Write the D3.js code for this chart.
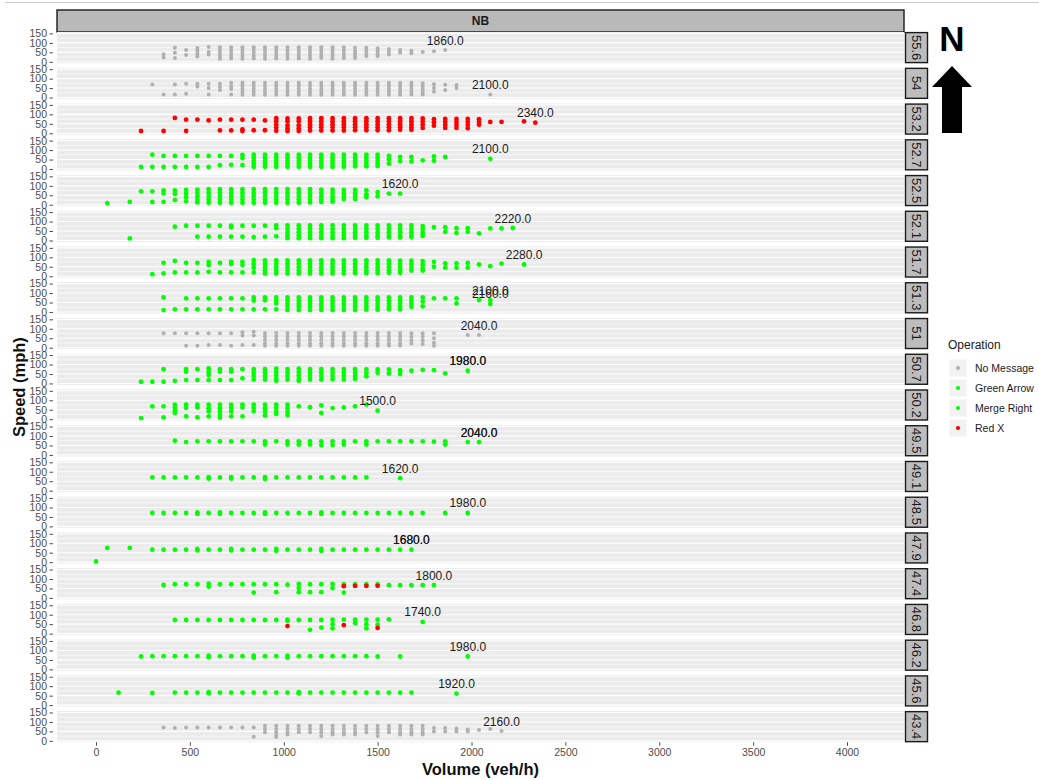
<!DOCTYPE html>
<html><head><meta charset="utf-8">
<script src="https://cdn.jsdelivr.net/npm/d3@7"></script>
<style>body{margin:0;background:#fff;} svg{display:block;font-family:"Liberation Sans",Arial,sans-serif;}</style>
</head><body><svg id="c" width="1039" height="780"></svg>
<script>
// ---------- DATA ----------
const facetLabels = ["55.6","54","53.2","52.7","52.5","52.1","51.7","51.3","51","50.7","50.2","49.5","49.1","48.5","47.9","47.4","46.8","46.2","45.6","43.4"];
const facetOps = ["No Message","No Message","Red X","Green Arrow","Green Arrow","Green Arrow","Green Arrow","Green Arrow","No Message","Green Arrow","Green Arrow","Green Arrow","Green Arrow","Green Arrow","Merge Right","Merge Right","Merge Right","Green Arrow","Green Arrow","No Message"];
const legendOps = ["No Message","Green Arrow","Merge Right","Red X"];
const opColors = ["#b0b0b0","#00ff00","#00ff00","#ff0000"];
const xTicks = [0,500,1000,1500,2000,2500,3000,3500,4000];
const yTicks = [0,50,100,150];
const yMinor = [25,75,125];

// [volume, [speeds], optional operation]
const p556 = [[360,[40,22]],[420,[74,48,20]],[480,[62,36]],[540,[73,58,43,28]],[600,[78,52,38]],[660,[77,62,46,30,16]],[720,[77,62,46,30,18]],[780,[77,62,46,30,16]],[840,[77,62,46,30,18]],[900,[77,62,46,30,16]],[960,[77,62,46,30,18]],[1020,[77,62,46,30,16]],[1080,[77,62,46,30,18]],[1140,[77,62,46,30,16]],[1200,[77,62,46,30,20]],[1260,[77,62,46,30,16]],[1320,[77,62,46,30,20]],[1380,[74,58,44,30,20]],[1440,[74,58,44,30]],[1500,[70,55,40,30]],[1560,[68,52,38]],[1620,[62,48]],[1680,[58,45]],[1740,[52]],[1800,[56]],[1860,[62]]];
const p54 = [[300,[69]],[360,[16]],[420,[69,16]],[480,[73,20]],[540,[73,58]],[600,[73,50,16]],[660,[73,55,40]],[720,[78,60,45,16]],[780,[78,62,46,30,14]],[840,[78,62,46,30,14]],[900,[78,62,46,30,14]],[960,[78,62,46,30,14]],[1020,[78,62,46,30,14]],[1080,[78,62,46,30,14]],[1140,[78,62,46,30,14]],[1200,[78,62,46,30,14]],[1260,[78,62,46,30,14]],[1320,[78,62,46,30,14]],[1380,[78,62,46,30,14]],[1440,[78,62,46,30,14]],[1500,[78,62,46,30,14]],[1560,[78,62,46,30,14]],[1620,[78,62,46,30,14]],[1680,[78,62,46,30,16]],[1740,[76,60,44,28,16]],[1800,[70,50,30]],[1860,[68,40]],[1920,[66,50]],[2100,[16]]];
const p532 = [[240,[12]],[360,[12]],[420,[81]],[480,[72,12]],[540,[72]],[600,[68]],[660,[72,15]],[720,[72,15]],[780,[72,20,12]],[840,[72,16]],[900,[68,16]],[960,[80,64,46,30,13]],[1020,[78,64,42,26,12]],[1080,[78,64,42,26,12]],[1140,[80,64,48,32,14]],[1200,[80,64,48,32,14]],[1260,[80,64,48,32,14]],[1320,[80,64,48,32,14]],[1380,[80,64,48,32,16]],[1440,[80,64,48,32,16]],[1500,[80,64,48,32,16]],[1560,[80,64,48,32,16]],[1620,[80,64,48,32,18]],[1680,[80,64,48,32,18]],[1740,[78,62,46,28]],[1800,[74,58,40]],[1860,[76,60,44,28]],[1920,[76,60,44,28]],[1980,[76,60,44,26]],[2040,[74,60,45]],[2100,[60]],[2160,[60]],[2280,[63]],[2340,[56]]];
const p527 = [[240,[11]],[300,[76,11]],[360,[69,11]],[420,[69,11]],[480,[69,11]],[540,[69,11]],[600,[69,11]],[660,[69,20]],[720,[69,22]],[780,[74,58,20]],[840,[76,60,44,28,12]],[900,[76,60,44,28,12]],[960,[76,60,44,28,12]],[1020,[76,60,44,28,12]],[1080,[76,60,44,28,12]],[1140,[76,60,44,28,12]],[1200,[76,60,44,28,12]],[1260,[76,60,44,28,12]],[1320,[76,60,44,28,12]],[1380,[76,60,44,28,14]],[1440,[76,60,44,28,14]],[1500,[76,60,44,28,16]],[1560,[69,50,28]],[1620,[64,42]],[1680,[64,40]],[1740,[46]],[1800,[66,44]],[1860,[64]],[2100,[54]]];
const p525 = [[60,[9]],[180,[15]],[240,[71]],[300,[71,15]],[360,[76,60,15]],[420,[76,58,25]],[480,[78,60,40,18]],[540,[80,62,44,26,12]],[600,[82,64,46,28,10]],[660,[82,64,46,28,10]],[720,[82,64,46,28,10]],[780,[82,64,46,28,10]],[840,[82,64,46,28,10]],[900,[82,64,46,28,10]],[960,[82,64,46,28,10]],[1020,[82,64,46,28,10]],[1080,[82,64,46,28,10]],[1140,[82,64,46,28,12]],[1200,[80,62,44,28,14]],[1260,[80,62,44,28,16]],[1320,[78,60,44,30]],[1380,[78,60,44,30]],[1440,[76,55,40]],[1500,[67,45]],[1560,[59]],[1620,[59]]];
const p521 = [[180,[11]],[420,[73]],[480,[78]],[540,[78,20]],[600,[78,20]],[660,[78,20]],[720,[78,70,20]],[780,[78,20]],[840,[78,18]],[900,[78,20]],[960,[80,65,22]],[1020,[80,62,44,26,12]],[1080,[80,62,44,26,12]],[1140,[80,62,44,26,12]],[1200,[80,62,44,26,12]],[1260,[80,62,44,26,12]],[1320,[80,62,44,26,12]],[1380,[80,62,44,26,14]],[1440,[80,62,44,26,14]],[1500,[80,62,44,26,14]],[1560,[80,62,44,26,16]],[1620,[80,62,44,26,16]],[1680,[80,62,44,26,18]],[1740,[76,58,40,24]],[1800,[70]],[1860,[70,45]],[1920,[65,40]],[1980,[65,45]],[2040,[38]],[2100,[64]],[2160,[64]],[2220,[66]]];
const p517 = [[300,[11]],[360,[71,15]],[420,[81,20]],[480,[71,20]],[540,[71,20]],[600,[76,60,23]],[660,[71,20]],[720,[76,64,20]],[780,[76,60,20]],[840,[85,65,45,20]],[900,[84,66,48,30,14]],[960,[84,66,48,30,14]],[1020,[84,66,48,30,14]],[1080,[84,66,48,30,14]],[1140,[84,66,48,30,14]],[1200,[84,66,48,30,14]],[1260,[84,66,48,30,14]],[1320,[84,66,48,30,14]],[1380,[84,66,48,30,16]],[1440,[84,66,48,30,16]],[1500,[84,66,48,30,16]],[1560,[84,66,48,30,18]],[1620,[82,64,46,30,18]],[1680,[82,64,46,30]],[1740,[80,62,44,30]],[1800,[76,50]],[1860,[68,45]],[1920,[68,45]],[1980,[70,45]],[2040,[62]],[2100,[53]],[2160,[67]],[2280,[62]]];
const p513 = [[360,[77,10]],[420,[14]],[480,[72,14]],[540,[72,14]],[600,[72,14]],[660,[72,14]],[720,[72,14]],[780,[72,14]],[840,[77,60,14]],[900,[77,62,14]],[960,[77,60,45,14]],[1020,[77,60,43,27,10]],[1080,[77,60,43,27,10]],[1140,[77,60,43,27,10]],[1200,[77,60,43,27,10]],[1260,[77,60,43,27,10]],[1320,[77,60,43,27,10]],[1380,[77,60,43,27,10]],[1440,[77,60,43,27,12]],[1500,[77,60,43,27,12]],[1560,[77,60,43,27,14]],[1620,[77,60,43,27,14]],[1680,[77,60,43,27]],[1740,[77,55,30]],[1800,[72]],[1860,[72]],[1920,[72,45]],[2040,[63]],[2100,[63,42]]];
const p51 = [[360,[76]],[420,[76]],[480,[76,10]],[540,[76,10]],[600,[76,14]],[660,[76,14]],[720,[76,10]],[780,[82,65,14]],[840,[85,65,14]],[900,[78,60,42,24,10]],[960,[78,60,42,24,10]],[1020,[78,60,42,24,10]],[1080,[78,60,42,24,10]],[1140,[78,60,42,24,10]],[1200,[78,60,42,24,10]],[1260,[78,60,42,24,10]],[1320,[78,60,42,24,10]],[1380,[78,60,42,24,10]],[1440,[78,60,42,24,10]],[1500,[78,60,42,24,10]],[1560,[78,60,42,24,12]],[1620,[78,60,42,24,12]],[1680,[76,58,40,22]],[1740,[76,58,40,20]],[1800,[76,50,26,10]],[1980,[67]],[2040,[67]]];
const p507 = [[240,[9]],[300,[9]],[360,[75,9]],[420,[14]],[480,[75,62,18]],[540,[75,18]],[600,[80,62,45,18]],[660,[75,62,18]],[720,[75,62,18]],[780,[75,27]],[840,[75,57,39,20]],[900,[75,57,39,20]],[960,[78,60,42,24,14]],[1020,[75,57,39,20]],[1080,[78,60,42,24,14]],[1140,[75,57,39,20]],[1200,[75,57,39,20]],[1260,[75,57,39,22]],[1320,[75,57,39,20]],[1380,[75,57,39,24]],[1440,[74,55,38]],[1500,[74,56]],[1560,[74,52]],[1620,[70,50]],[1680,[67]],[1740,[72]],[1800,[70]],[1860,[53]],[1980,[67]]];
const p502 = [[240,[6]],[300,[68]],[360,[68,10]],[420,[77,60,45,33]],[480,[77,60,15]],[540,[77,62,10]],[600,[77,58,42,15]],[660,[77,58,40,22,8]],[720,[77,60,42,15]],[780,[77,62,15]],[840,[77,60,43]],[900,[77,58,40,20]],[960,[77,60,40,28]],[1020,[77,58,40,22]],[1080,[68]],[1140,[63]],[1200,[73,33]],[1260,[59]],[1320,[62]],[1380,[68]],[1440,[77]],[1500,[45]]];
const p495 = [[420,[75]],[480,[68]],[540,[72]],[600,[72]],[660,[72]],[720,[72]],[780,[72]],[840,[72]],[900,[72,55]],[960,[72]],[1020,[72,55]],[1080,[72,55]],[1140,[72,55]],[1200,[72,52]],[1260,[72,52]],[1320,[72,55]],[1380,[72]],[1440,[72,55]],[1500,[72]],[1560,[72]],[1620,[72]],[1680,[72]],[1740,[72]],[1800,[70]],[1860,[72,55]],[1980,[68]],[2040,[68]]];
const p491 = [[300,[70]],[360,[70]],[420,[70]],[480,[70]],[540,[70]],[600,[72,64]],[660,[70]],[720,[72,64]],[780,[70]],[840,[70]],[900,[72,62]],[960,[70]],[1020,[70]],[1080,[70]],[1140,[70]],[1200,[70]],[1260,[70]],[1320,[70]],[1380,[70]],[1440,[70]],[1620,[66]]];
const p485 = [[300,[71]],[360,[71]],[420,[71]],[480,[71]],[540,[74,66]],[600,[71]],[660,[74,66]],[720,[71]],[780,[71]],[840,[71]],[900,[74,66]],[960,[71]],[1020,[71]],[1080,[71]],[1140,[71]],[1200,[74,66]],[1260,[71]],[1320,[71]],[1380,[71]],[1440,[71]],[1500,[71]],[1560,[71]],[1620,[71]],[1680,[71]],[1740,[71]],[1860,[71]],[1980,[71]]];
const p479 = [[0,[4]],[60,[75]],[180,[75]],[300,[66]],[360,[66]],[420,[66]],[480,[66]],[540,[70,62]],[600,[66]],[660,[66]],[720,[70,62]],[780,[66]],[840,[66]],[900,[66]],[960,[70,60]],[1020,[66]],[1080,[66]],[1140,[66]],[1200,[70,60]],[1260,[66]],[1320,[66]],[1380,[66]],[1440,[66]],[1500,[66]],[1560,[66]],[1620,[66]],[1680,[66]]];
const p474 = [[360,[68]],[420,[72]],[480,[72]],[540,[72]],[600,[75,60]],[660,[72]],[720,[72]],[780,[72]],[840,[72,28]],[900,[72]],[960,[72,30]],[1020,[70]],[1080,[74,52,30]],[1140,[72,30]],[1200,[72,30]],[1260,[74,52]],[1320,[72,28]],[1320,[62],"Red X"],[1380,[72]],[1380,[63],"Red X"],[1440,[72]],[1440,[63],"Red X"],[1500,[72]],[1500,[64],"Red X"],[1560,[67]],[1620,[67]],[1680,[67]],[1740,[67]],[1800,[67]]];
const p468 = [[420,[72]],[480,[72]],[540,[72]],[600,[72]],[660,[72]],[720,[72]],[780,[72]],[840,[72]],[900,[72]],[960,[72]],[1020,[74,68]],[1020,[40],"Red X"],[1080,[72]],[1140,[72,20]],[1200,[72,32]],[1260,[74,50,28]],[1320,[74]],[1320,[45],"Red X"],[1380,[74,55]],[1440,[74,50,28]],[1500,[74,48]],[1500,[30],"Red X"],[1560,[75]],[1740,[62]]];
const p462 = [[240,[68]],[300,[70]],[360,[70]],[420,[70]],[480,[70]],[540,[70]],[600,[72,64]],[660,[70]],[720,[70]],[780,[70]],[840,[72,62]],[900,[70]],[960,[70]],[1020,[72,62]],[1080,[70]],[1140,[70]],[1200,[70]],[1260,[70]],[1320,[70]],[1380,[70]],[1440,[70]],[1500,[68]],[1620,[68]],[1980,[68]]];
const p456 = [[120,[66]],[300,[64]],[420,[66]],[480,[66]],[540,[66]],[600,[68,62]],[660,[66]],[720,[66]],[780,[66]],[840,[66]],[900,[66]],[960,[66]],[1020,[66]],[1080,[68,62]],[1140,[66]],[1200,[66]],[1260,[66]],[1320,[66]],[1380,[66]],[1440,[66]],[1500,[66]],[1560,[66]],[1620,[66]],[1680,[66]],[1920,[61]]];
const p434 = [[360,[70]],[420,[68]],[480,[70]],[540,[70]],[600,[70]],[660,[70]],[720,[70]],[780,[70]],[840,[70,22]],[900,[80,62,45]],[960,[80,62,45,28,20]],[1020,[80,62,45,34]],[1080,[80,62,45]],[1140,[80,62,45]],[1200,[80,62,45,26]],[1260,[80,62,45,34]],[1320,[80,62,45,34]],[1380,[80,62,45,34]],[1440,[80,62,45]],[1500,[80,62,45,26]],[1560,[80,62,45]],[1620,[80,62,45,34]],[1680,[80,62,45,34]],[1740,[80,62,45,34]],[1800,[68,50]],[1860,[68,50]],[1920,[65,50]],[1980,[60,50]],[2040,[57]],[2100,[63]],[2160,[52]]];
const facetPoints = [p556,p54,p532,p527,p525,p521,p517,p513,p51,p507,p502,p495,p491,p485,p479,p474,p468,p462,p456,p434];

// max-volume labels: [facet, volume, speed of labelled point, text]
const maxLabels = [["55.6",1860,62,"1860.0"],["54",2100,16,"2100.0"],["53.2",2340,56,"2340.0"],["52.7",2100,54,"2100.0"],["52.5",1620,59,"1620.0"],["52.1",2220,66,"2220.0"],["51.7",2280,62,"2280.0"],["51.3",2100,63,"2100.0"],["51.3",2100,45,"2160.0"],["51",2040,67,"2040.0"],["50.7",1980,67,"1980.0"],["50.7",1980,67,"1980.0"],["50.2",1500,45,"1500.0"],["49.5",2040,68,"2040.0"],["49.5",2040,68,"2040.0"],["49.1",1620,66,"1620.0"],["48.5",1980,71,"1980.0"],["47.9",1680,66,"1680.0"],["47.9",1680,66,"1680.0"],["47.4",1800,67,"1800.0"],["46.8",1740,62,"1740.0"],["46.2",1980,68,"1980.0"],["45.6",1920,61,"1920.0"],["43.4",2160,52,"2160.0"]];

// ---------- LAYOUT ----------
const svg = d3.select("#c");
const panelL = 57, panelR = 904, firstTop = 32, rowStep = 35.74, panelH = 31.2;
const x = d3.scaleLinear().domain([0,4000]).range([96,847]);
const color = d3.scaleOrdinal().domain(legendOps).range(opColors);
const fy = d3.scaleBand().domain(facetLabels).range([firstTop, firstTop + rowStep*facetLabels.length]).paddingInner(0);

svg.append("line").attr("x1",5).attr("x2",1039).attr("y1",2.5).attr("y2",2.5).attr("stroke","#c8c8c8").attr("stroke-width",1);

svg.append("rect").attr("x",panelL).attr("y",10).attr("width",panelR-panelL).attr("height",22)
  .attr("fill","#b9b9b9").attr("stroke","#1a1a1a").attr("stroke-width",1.4);
svg.append("text").attr("x",(panelL+panelR)/2).attr("y",25).attr("text-anchor","middle")
  .attr("font-size",12).attr("font-weight","bold").attr("fill","#1a1a1a").text("NB");

facetLabels.forEach((lab,i)=>{
  const top = fy(lab);
  const y = d3.scaleLinear().domain([-7.5,157.5]).range([top+panelH, top]);
  const g = svg.append("g");
  g.append("rect").attr("x",panelL).attr("y",top).attr("width",panelR-panelL).attr("height",panelH).attr("fill","#ebebeb");
  yMinor.forEach(v=>g.append("line").attr("x1",panelL).attr("x2",panelR).attr("y1",y(v)).attr("y2",y(v)).attr("stroke","#fff").attr("stroke-width",0.6));
  yTicks.forEach(v=>g.append("line").attr("x1",panelL).attr("x2",panelR).attr("y1",y(v)).attr("y2",y(v)).attr("stroke","#fff").attr("stroke-width",1.1));
  const ax = g.append("g").attr("transform",`translate(${panelL-4},0)`)
    .call(d3.axisLeft(y).tickValues(yTicks).tickSize(3.5).tickPadding(2.5));
  ax.select(".domain").remove();
  ax.selectAll(".tick line").attr("stroke","#4d4d4d");
  ax.selectAll(".tick text").attr("fill","#4d4d4d").attr("font-size",10.5).attr("font-family","Liberation Sans, Arial, sans-serif");
  const pts = [];
  facetPoints[i].forEach(d=>{
    const op = d[2] || facetOps[i];
    d[1].forEach(s=>pts.push({v:d[0], s:s, op:op}));
  });
  g.selectAll("circle.pt").data(pts).join("circle").attr("class","pt")
    .attr("cx",d=>x(d.v)).attr("cy",d=>y(d.s))
    .attr("r",d=>d.op==="No Message"?2.0:2.4)
    .attr("fill",d=>color(d.op));
  maxLabels.filter(l=>l[0]===lab).forEach(l=>{
    g.append("text").attr("x",x(l[1])).attr("y",y(l[2])-5.5).attr("text-anchor","middle")
      .attr("font-size",12).attr("fill","#1a1a1a").text(l[3]);
  });
  svg.append("rect").attr("x",905.5).attr("y",top+0.6).attr("width",22).attr("height",panelH-1.2)
    .attr("fill","#bdbdbd").attr("stroke","#1a1a1a").attr("stroke-width",1.4);
  svg.append("text").attr("transform",`translate(${916.5},${top+panelH/2}) rotate(90)`)
    .attr("text-anchor","middle").attr("dy","0.35em").attr("font-size",13).attr("fill","#1a1a1a").text(lab);
});

const lastTop = fy(facetLabels[facetLabels.length-1]);
const bx = svg.append("g").attr("transform",`translate(0,${lastTop+panelH})`)
  .call(d3.axisBottom(x).tickValues(xTicks).tickSize(3.5).tickPadding(3).tickFormat(d3.format("d")));
bx.select(".domain").remove();
bx.selectAll(".tick line").attr("stroke","#4d4d4d");
bx.selectAll(".tick text").attr("fill","#4d4d4d").attr("font-size",10.5).attr("font-family","Liberation Sans, Arial, sans-serif");

svg.append("text").attr("x",(panelL+panelR)/2).attr("y",775).attr("text-anchor","middle")
  .attr("font-size",16.5).attr("font-weight","bold").attr("fill","#111").text("Volume (veh/h)");
svg.append("text").attr("transform",`translate(25,${(firstTop+lastTop+panelH)/2}) rotate(-90)`).attr("text-anchor","middle")
  .attr("font-size",16.5).attr("font-weight","bold").attr("fill","#111").text("Speed (mph)");

svg.append("text").attr("x",952).attr("y",51).attr("text-anchor","middle").attr("font-size",35).attr("font-weight","bold").attr("fill","#000").text("N");
svg.append("path").attr("d","M952,66 L972,87 L962,87 L962,133 L942,133 L942,87 L932,87 Z").attr("fill","#000");

const lg = svg.append("g");
lg.append("text").attr("x",948).attr("y",349).attr("font-size",12).attr("fill","#1a1a1a").text("Operation");
legendOps.forEach((op,k)=>{
  const cy = 368 + k*20;
  lg.append("rect").attr("x",949.5).attr("y",cy-8.5).attr("width",17).attr("height",17).attr("fill","#f2f2f2");
  lg.append("circle").attr("cx",958).attr("cy",cy).attr("r",2.1).attr("fill",color(op));
  lg.append("text").attr("x",975).attr("y",cy+3.7).attr("font-size",10.5).attr("fill","#1a1a1a").text(op);
});
</script>
</body></html>
